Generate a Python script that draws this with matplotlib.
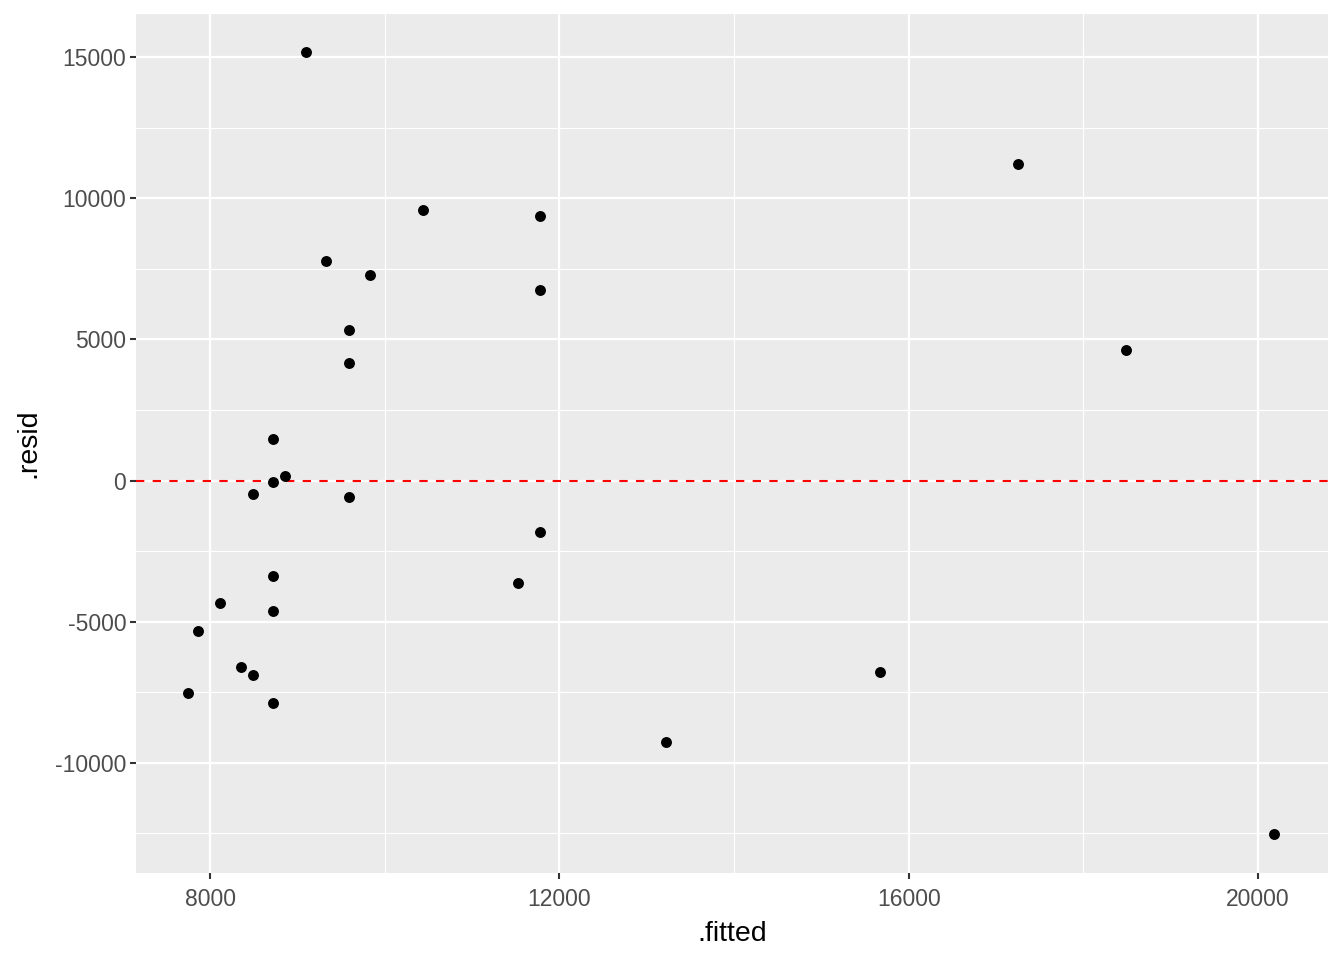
import matplotlib
matplotlib.use("Agg")
import matplotlib.pyplot as plt
import numpy as np

# fitted values and residuals
fitted = [9100, 17249, 10441, 11782, 9330, 9834, 11782, 9593, 18487, 9593,
          8722, 8860, 8722, 8493, 9593, 11782, 8722, 11530, 8115, 8722,
          7862, 8355, 15668, 8493, 7748, 8722, 13226, 20183]
resid = [15177, 11206, 9574, 9362, 7766, 7270, 6738, 5319, 4610, 4149,
         1454, 177, -35, -461, -567, -1809, -3369, -3617, -4326, -4610,
         -5319, -6596, -6773, -6879, -7518, -7872, -9255, -12518]

x_major = [8000, 12000, 16000, 20000]
x_minor = [10000, 14000, 18000]
y_major = [-10000, -5000, 0, 5000, 10000, 15000]
y_minor = [-12500, -7500, -2500, 2500, 7500, 12500]

plt.rcParams['font.family'] = ['Liberation Sans', 'DejaVu Sans']
plt.rcParams['axes.unicode_minus'] = False

fig = plt.figure(figsize=(13.44, 9.6), dpi=100)
ax = fig.add_axes([136 / 1344, 1 - 873 / 960, (1328 - 136) / 1344, (873 - 14) / 960])
ax.set_facecolor('#EBEBEB')
for s in ax.spines.values():
    s.set_visible(False)

ax.set_xlim(7152, 20802)
ax.set_ylim(-13901, 16525)

# grid lines, ggplot style
for v in x_minor:
    ax.axvline(v, color='white', lw=0.8, zorder=0)
for v in y_minor:
    ax.axhline(v, color='white', lw=0.8, zorder=0)
for v in x_major:
    ax.axvline(v, color='white', lw=1.6, zorder=0.5)
for v in y_major:
    ax.axhline(v, color='white', lw=1.6, zorder=0.5)

ax.scatter(fitted, resid, s=62, color='black', linewidths=0, zorder=3)
ax.axhline(0, color='red', lw=1.5, linestyle=(0, (4, 4)), zorder=2)

ax.set_xticks(x_major)
ax.set_yticks(y_major)
ax.tick_params(axis='both', colors='#333333', length=4, width=1.5,
               labelsize=16.5, labelcolor='#4D4D4D', pad=3)
ax.tick_params(axis='x', pad=7)
ax.set_xlabel('.fitted', fontsize=20.5, labelpad=7)
ax.set_ylabel('.resid', fontsize=20.5, labelpad=10)

fig.savefig('out.png', dpi=100)
